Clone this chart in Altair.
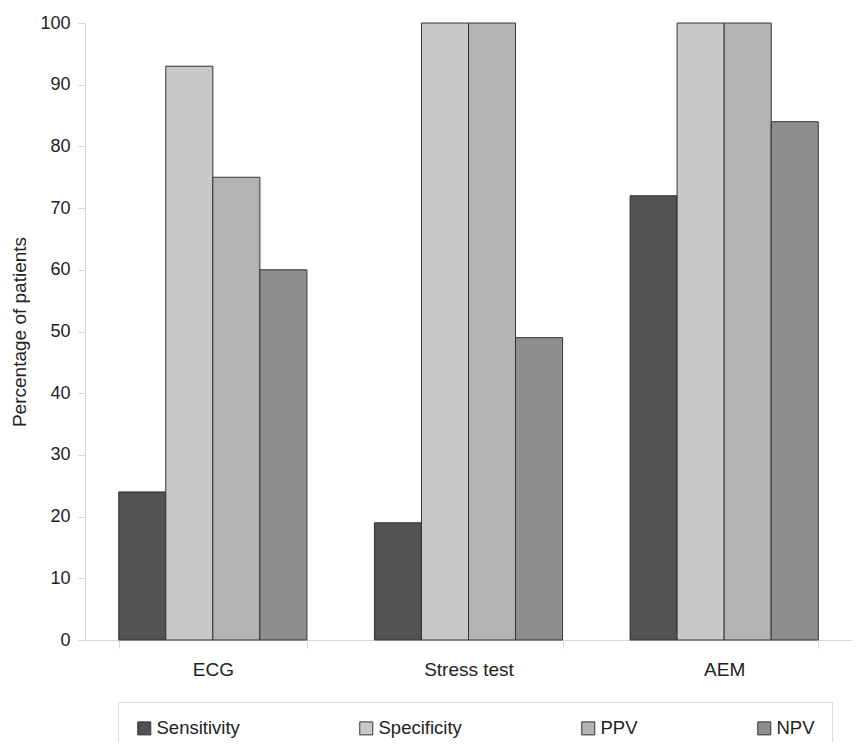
import altair as alt
import pandas as pd

tests = ["ECG", "Stress test", "AEM"]
measures = ["Sensitivity", "Specificity", "PPV", "NPV"]
sensitivity = [24, 19, 72]
specificity = [93, 100, 100]
ppv = [75, 100, 100]
npv = [60, 49, 84]
colors = ["#525252", "#c8c8c8", "#b3b3b3", "#8e8e8e"]
y_ticks = [0, 10, 20, 30, 40, 50, 60, 70, 80, 90, 100]

rows = []
for i, t in enumerate(tests):
    for m, vals in zip(measures, [sensitivity, specificity, ppv, npv]):
        rows.append({"test": t, "measure": m, "value": vals[i]})
df = pd.DataFrame(rows)

FONT = "Liberation Sans"
AXIS_GRAY = "#d9d9d9"
TEXT = "#222222"

chart = alt.Chart(df).mark_bar(stroke="#333333", strokeWidth=1).encode(
    x=alt.X(
        "test:N",
        sort=tests,
        scale=alt.Scale(paddingInner=0.264, paddingOuter=0.132),
        axis=alt.Axis(
            title=None, labelAngle=0, labelFontSize=19, labelColor=TEXT,
            labelPadding=12, tickBand="extent", tickSize=8,
            tickColor=AXIS_GRAY, domainColor=AXIS_GRAY, grid=False,
        ),
    ),
    xOffset=alt.XOffset("measure:N", sort=measures,
                        scale=alt.Scale(paddingInner=0, paddingOuter=0)),
    y=alt.Y(
        "value:Q",
        scale=alt.Scale(domain=[0, 100], nice=False),
        axis=alt.Axis(
            values=y_ticks, title="Percentage of patients",
            labelFontSize=18, labelColor=TEXT, labelPadding=8,
            tickSize=7, tickColor=AXIS_GRAY, domainColor=AXIS_GRAY,
            titleFontSize=19, titleFontWeight="normal", titleColor=TEXT,
            titlePadding=10, grid=False,
        ),
    ),
    color=alt.Color(
        "measure:N",
        sort=measures,
        scale=alt.Scale(domain=measures, range=colors),
        legend=alt.Legend(
            orient="none", legendX=33, legendY=679, direction="horizontal",
            columns=4, title=None, padding=17, strokeColor=AXIS_GRAY,
            symbolType="square", symbolSize=169, symbolStrokeColor="#333333",
            symbolStrokeWidth=1, labelFontSize=18.5, labelOffset=3,
            columnPadding=117, labelColor=TEXT, labelLimit=400,
        ),
    ),
).properties(
    width=767,
    height=617,
    padding={"left": 77, "top": 15, "right": 0, "bottom": 102},
    autosize=alt.AutoSizeParams(type="none"),
).configure(font=FONT).configure_view(stroke=None)

chart.save("out.html", embed_options={"renderer": "svg", "actions": False})
